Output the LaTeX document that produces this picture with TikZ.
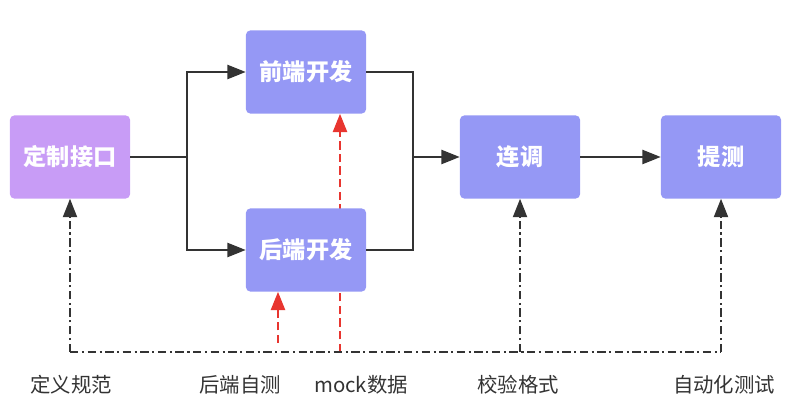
\documentclass[tikz,border=0pt]{standalone}
\usepackage{fontspec}
\usepackage{xcolor}
\usepackage{tikz}
\usetikzlibrary{positioning,calc,arrows.meta,backgrounds}
\newfontfamily\cjk{Noto Sans CJK SC}

\definecolor{boxblue}{HTML}{9598F5}
\definecolor{boxpurple}{HTML}{C89CF6}
\definecolor{linegray}{HTML}{333333}
\definecolor{mockred}{HTML}{E8352F}

\tikzset{
    tip/.style={-{Triangle[length=13pt,width=10pt]}},
    stepbox/.style={rectangle, rounded corners=3pt, minimum width=3cm, minimum height=2.075cm,
        fill=boxblue, text=white, font=\cjk\bfseries\fontsize{16.5}{18}\selectfont},
    flow/.style={draw=linegray, line width=1.5pt, tip},
    plain/.style={draw=linegray, line width=1.5pt},
    check/.style={draw=linegray, line width=1.2pt, dash pattern=on 6pt off 2.5pt on 1.5pt off 2.5pt},
    mock/.style={draw=mockred, line width=1.6pt, dash pattern=on 6pt off 3pt},
    note/.style={text=linegray, font=\cjk\fontsize{14.5}{16}\selectfont},
}

\begin{document}
\begin{tikzpicture}[x=0.025cm, y=-0.025cm]
    \useasboundingbox (0,0) rectangle (800,411);

    % boxes
    \node[stepbox, fill=boxpurple] (dz) at (70,157) {定制接口};
    \node[stepbox] (qd) at (306,72) {前端开发};
    \node[stepbox] (hd) at (306,250) {后端开发};
    \node[stepbox] (lt) at (520,157) {连调};
    \node[stepbox] (tc) at (721,157) {提测};

    % main flow
    \coordinate (jl) at (187,157);
    \coordinate (jr) at (413,157);
    \draw[plain] (dz) -- (jl);
    \draw[flow] (jl) |- (qd);
    \draw[flow] (jl) |- (hd);
    \draw[plain] (qd) -| (jr);
    \draw[plain] (hd) -| (jr);
    \draw[flow] (jr) -- (lt);
    \draw[flow] (lt) -- (tc);

    % checks along the bottom
    \coordinate (b1) at (70,352);
    \coordinate (b3) at (520,352);
    \coordinate (b4) at (721,352);
    \draw[check] (b1) -- (b4);
    \draw[check, tip] (b1) -- (dz);
    \draw[check, tip] (b3) -- (lt);
    \draw[check, tip] (b4) -- (tc);

    % mock and self test
    \coordinate (ms) at (340,352);
    \coordinate (st) at (278,343);
    \begin{pgfonlayer}{background}
        \draw[mock, tip] (ms) -- (ms |- qd.south);
    \end{pgfonlayer}
    \draw[mock, tip] (st) -- (st |- hd.south);

    % labels
    \node[note] (l1) at (71,385) {定义规范};
    \node[note] (l2) at (240,385) {后端自测};
    \node[note] (l3) at (361,385) {mock数据};
    \node[note] (l4) at (518,385) {校验格式};
    \node[note] (l5) at (724,385) {自动化测试};
\end{tikzpicture}
\end{document}
